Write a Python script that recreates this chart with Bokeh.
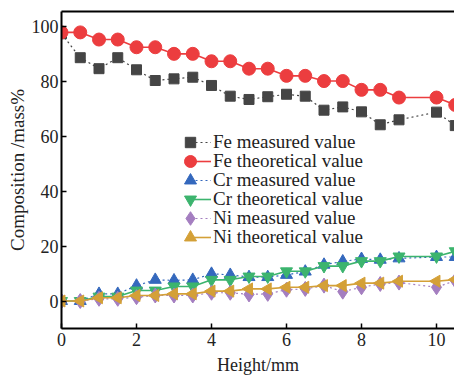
import math
from bokeh.plotting import figure
from bokeh.models import Range1d, LinearAxis, Legend, LegendItem, FixedTicker, Title
from bokeh.embed import file_html
from bokeh.resources import INLINE

height_mm = [0, 0.5, 1, 1.5, 2, 2.5, 3, 3.5, 4, 4.5, 5, 5.5, 6, 6.5, 7, 7.5, 8, 8.5, 9, 10, 10.5]

fe_measured = [97.2, 88.5, 84.5, 88.5, 84.1, 80.2, 80.8, 81.4, 78.4, 74.5, 73.3, 74.3, 75.2, 74.5,
               69.4, 70.6, 68.8, 64.1, 65.9, 68.7, 63.8]
fe_theoretical = [97.7, 97.7, 95.1, 95.1, 92.3, 92.3, 89.9, 89.9, 87.2, 87.2, 84.5, 84.5, 81.9, 81.9,
                  80.0, 80.0, 76.8, 76.8, 74.0, 74.0, 71.3]
cr_measured = [0.0, 0.0, 2.6, 2.6, 5.6, 7.7, 7.5, 7.7, 9.9, 9.5, 8.7, 8.7, 9.5, 10.7,
               13.2, 14.4, 15.3, 15.0, 15.5, 16.0, 16.0]
cr_theoretical = [0.0, 0.0, 1.6, 1.6, 3.8, 3.8, 5.3, 5.3, 7.7, 7.7, 8.9, 8.9, 10.8, 10.8,
                  12.7, 12.7, 14.5, 14.5, 16.2, 16.2, 18.1]
ni_measured = [0.0, 0.0, 0.8, 0.8, 1.4, 2.0, 2.0, 2.0, 3.0, 3.0, 2.4, 2.6, 4.1, 4.4,
               5.6, 3.4, 5.0, 6.2, 6.7, 5.0, 7.4]
ni_theoretical = [0.0, 0.0, 1.2, 1.2, 2.0, 2.0, 2.6, 2.6, 3.6, 3.6, 4.4, 4.4, 5.0, 5.0,
                  5.6, 5.6, 6.5, 6.5, 7.2, 7.2, 7.8]

x_ticks = [0, 2, 4, 6, 8, 10]
y_ticks = [0, 20, 40, 60, 80, 100]

FONT = "Liberation Serif"

p = figure(width=454, height=378, output_backend="svg", toolbar_location=None,
           x_range=Range1d(0, 10.48), y_range=Range1d(-10, 105.3),
           min_border_left=61, min_border_right=0, min_border_top=11, min_border_bottom=0)
p.outline_line_color = None
p.grid.visible = False
p.background_fill_color = "white"

for ax in [p.xaxis[0], p.yaxis[0]]:
    ax.axis_line_width = 2
    ax.axis_line_color = "black"
    ax.major_tick_in = 5
    ax.major_tick_out = 0
    ax.major_tick_line_width = 1.5
    ax.minor_tick_line_color = None
    ax.major_label_text_font = FONT
    ax.major_label_text_font_size = "18px"
    ax.major_label_text_color = "#222222"
    ax.axis_label_text_font = FONT
    ax.axis_label_text_font_style = "normal"
    ax.axis_label_text_color = "#222222"

p.xaxis.ticker = FixedTicker(ticks=x_ticks)
p.yaxis.ticker = FixedTicker(ticks=y_ticks)
p.yaxis.axis_label = "Composition /mass%"
p.yaxis.axis_label_text_font_size = "19px"
p.xaxis.major_label_standoff = 4
p.yaxis.major_label_standoff = 3
p.yaxis.axis_label_standoff = 1

x_title = Title(text="Height/mm", align="center", text_font=FONT, text_font_size="18px",
                text_font_style="normal", text_color="#222222", standoff=8,
                vertical_align="bottom", offset=0)
p.add_layout(x_title, "below")

top = LinearAxis(ticker=FixedTicker(ticks=[]), major_label_text_font_size="0px",
                 major_tick_line_color=None, minor_tick_line_color=None, axis_line_width=2)
p.add_layout(top, "above")

series = [
    ("Fe measured value", fe_measured, "#454545", "square", "2 3", 10, 0),
    ("Fe theoretical value", fe_theoretical, "#ec3d3f", "circle", None, 13, 0),
    ("Cr measured value", cr_measured, "#3468bd", "triangle", "2 3", 12, 0),
    ("Cr theoretical value", cr_theoretical, "#3cb46e", "inverted_triangle", None, 12, 0),
    ("Ni measured value", ni_measured, "#a47ec0", "diamond", "2 3", 15, 0),
    ("Ni theoretical value", ni_theoretical, "#d4a037", "triangle", None, 12, math.pi / 2),
]

frame_bottom_offset = 312
legend_size = {"square": 26, "circle": 30, "triangle": 30, "inverted_triangle": 30, "diamond": 34}

for i, (name, vals, color, marker, dash, size, angle) in enumerate(series):
    if dash:
        ln = p.line(height_mm, vals, line_color=color, line_width=1.2, line_dash=dash)
    else:
        ln = p.line(height_mm, vals, line_color=color, line_width=1.6)
    sc = p.scatter(height_mm, vals, marker=marker, size=size, fill_color=color,
                   line_color=color, angle=angle, angle_units="rad")

    center = 141 + 19 * i
    gs = legend_size[marker]
    ypos = frame_bottom_offset + 15 - center - gs // 2
    common = dict(background_fill_alpha=0, border_line_color=None, label_text_font=FONT,
                  label_text_font_size="19px", padding=0, margin=0, spacing=0)
    leg_line = Legend(items=[LegendItem(label="", renderers=[ln])], location=(129, ypos),
                      glyph_width=21, glyph_height=gs, label_height=gs, label_standoff=0,
                      **common)
    leg_mark = Legend(items=[LegendItem(label=name, renderers=[sc])],
                      location=(129 - gs // 2, ypos), glyph_width=gs, glyph_height=gs,
                      label_height=gs, label_standoff=213 - (190 + gs // 2),
                      label_text_color="#222222", **common)
    p.add_layout(leg_line, "center")
    p.add_layout(leg_mark, "center")

open("out.html", "w").write(file_html(p, INLINE))
